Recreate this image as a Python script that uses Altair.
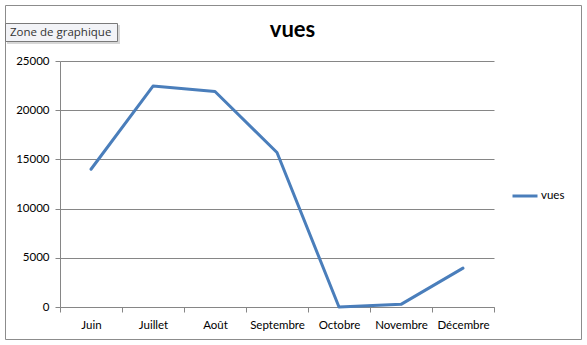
import altair as alt
import pandas as pd

mois = ["Juin", "Juillet", "Août", "Septembre", "Octobre", "Novembre", "Décembre"]
vues = [14000, 22450, 21900, 15700, 0, 270, 3950]
serie = "vues"

df = pd.DataFrame({"mois": mois, "vues": vues, "serie": [serie] * len(mois)})

FONT = "Lato"
GRID = "#868686"
W, H = 434, 246
PL, PT = 60, 61

border = alt.Chart(pd.DataFrame({"a": [0]})).mark_rect(
    fill=None, stroke="#8c8c8c", strokeWidth=1
).encode(
    x=alt.value(5.5 - PL), x2=alt.value(581.5 - PL),
    y=alt.value(5.5 - PT), y2=alt.value(339.5 - PT)
)

line = alt.Chart(df).mark_line(strokeWidth=3, strokeCap="round", strokeJoin="round").encode(
    x=alt.X("mois:N", sort=mois, title=None,
            scale=alt.Scale(paddingInner=0, paddingOuter=0),
            axis=alt.Axis(tickBand="extent", labelAngle=0, labelFont=FONT, labelFontSize=11.5,
                          labelColor="#000000", domainColor=GRID, tickColor=GRID, tickSize=5,
                          labelPadding=7, grid=False)),
    y=alt.Y("vues:Q", title=None,
            scale=alt.Scale(domain=[0, 25000], nice=False),
            axis=alt.Axis(values=[0, 5000, 10000, 15000, 20000, 25000], format="d",
                          labelFont=FONT, labelFontSize=11.5, labelColor="#000000",
                          domainColor=GRID, tickColor=GRID, tickSize=5, labelPadding=6,
                          gridColor=GRID, gridOpacity=1)),
    color=alt.Color("serie:N", scale=alt.Scale(range=["#4a7ebb"]), title=None,
                    legend=alt.Legend(orient="none", legendX=451, legendY=121,
                                      symbolType="stroke", symbolSize=625, symbolStrokeWidth=3,
                                      labelFont=FONT, labelFontSize=11.5, labelColor="#000000",
                                      labelOffset=2))
)

title = alt.Chart(pd.DataFrame({"t": ["vues"]})).mark_text(
    font=FONT, fontSize=22, fontWeight="bold", color="#000000",
    align="center", baseline="alphabetic"
).encode(text="t:N", x=alt.value(292.5 - PL), y=alt.value(37 - PT))

tip_shadow = alt.Chart(pd.DataFrame({"a": [0]})).mark_rect(
    fill="#bdbdbd", opacity=0.6
).encode(x=alt.value(7 - PL), x2=alt.value(120 - PL), y=alt.value(25 - PT), y2=alt.value(44 - PT))

tip_box = alt.Chart(pd.DataFrame({"a": [0]})).mark_rect(
    fill="#f2f3f7", stroke="#7a7a7a", strokeWidth=1
).encode(x=alt.value(5.5 - PL), x2=alt.value(117.5 - PL), y=alt.value(23.5 - PT), y2=alt.value(41.5 - PT))

tip_text = alt.Chart(pd.DataFrame({"t": ["Zone de graphique"]})).mark_text(
    font="Open Sans", fontSize=11.5, color="#333333", align="left", baseline="middle"
).encode(text="t:N", x=alt.value(10 - PL), y=alt.value(32.5 - PT))

chart = alt.layer(border, line, title, tip_shadow, tip_box, tip_text).properties(
    width=W, height=H,
    autosize=alt.AutoSizeParams(type="none"),
    padding={"left": PL, "top": PT, "right": 587 - PL - W, "bottom": 345 - PT - H},
    background="white"
).configure_view(stroke=None)

chart.save("out.html", embed_options={"renderer": "svg", "actions": False})
